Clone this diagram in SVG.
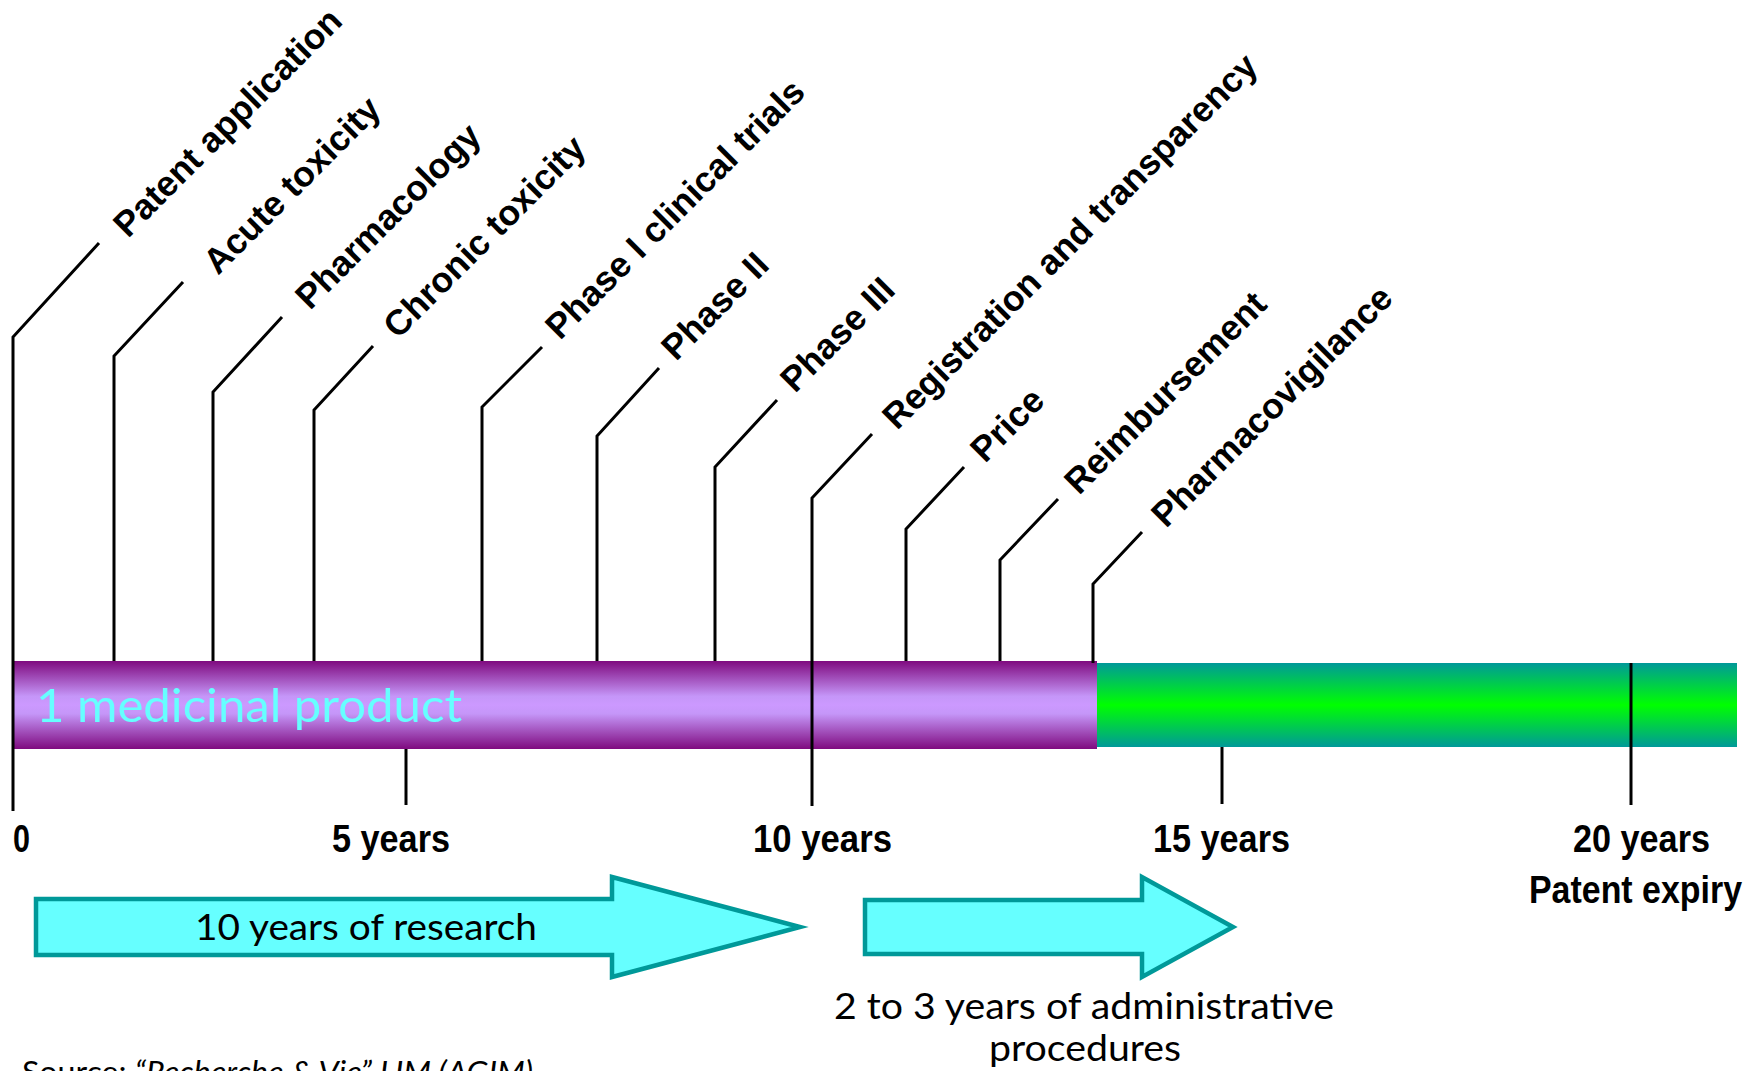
<svg xmlns="http://www.w3.org/2000/svg" width="1755" height="1071" viewBox="0 0 1755 1071">
<defs>
<linearGradient id="gPurple" x1="0" y1="0" x2="0" y2="1">
<stop offset="0" stop-color="#7F0A7F"/>
<stop offset="0.4" stop-color="#C596F8"/>
<stop offset="0.5" stop-color="#CC99FF"/>
<stop offset="0.6" stop-color="#C596F8"/>
<stop offset="1" stop-color="#7F0A7F"/>
</linearGradient>
<linearGradient id="gGreen" x1="0" y1="0" x2="0" y2="1">
<stop offset="0" stop-color="#009999"/>
<stop offset="0.5" stop-color="#00FF00"/>
<stop offset="1" stop-color="#009999"/>
</linearGradient>
<style>
.ln{fill:none;stroke:#000;stroke-width:3;stroke-linejoin:miter}
.lab{font-family:"Liberation Sans",Arial,sans-serif;font-weight:bold;font-size:35.5px;fill:#000}
.yr{font-family:"Liberation Sans",Arial,sans-serif;font-weight:bold;font-size:38px;fill:#000}
.cal{font-family:Lato,"Open Sans",sans-serif;fill:#000}
.arr{fill:#66FFFF;stroke:#009999;stroke-width:4.5}
</style>
</defs>
<rect width="1755" height="1071" fill="#FFFFFF"/>

<g id="bar">
<rect x="13" y="661" width="1084" height="88" fill="url(#gPurple)"/>
<rect x="1097" y="663" width="640" height="84" fill="url(#gGreen)"/>
<text x="36" y="722" class="cal" font-size="47" style="fill:#66FFFF" textLength="426" lengthAdjust="spacingAndGlyphs">1 medicinal product</text>
</g>

<g id="connectors">
<polyline class="ln" points="13,811 13,337 99,243"/>
<polyline class="ln" points="114,661 114,356 183,282"/>
<polyline class="ln" points="213,661 213,392 282,317"/>
<polyline class="ln" points="314,661 314,410 373,346"/>
<polyline class="ln" points="482,661 482,407 542,347"/>
<polyline class="ln" points="597,661 597,436 659,368"/>
<polyline class="ln" points="715,661 715,467 777,400"/>
<polyline class="ln" points="812,806 812,498 872,434"/>
<polyline class="ln" points="906,661 906,529 964,467"/>
<polyline class="ln" points="1000,661 1000,560 1058,499"/>
<polyline class="ln" points="1093,663 1093,584 1142,532"/>
<line class="ln" x1="406" y1="749" x2="406" y2="805"/>
<line class="ln" x1="1222" y1="747" x2="1222" y2="804"/>
<line class="ln" x1="1631" y1="663" x2="1631" y2="805"/>
</g>

<g id="milestones">
<text class="lab" x="128" y="239" transform="rotate(-45 128 239)">Patent application</text>
<text class="lab" x="218" y="276" transform="rotate(-45 218 276)">Acute toxicity</text>
<text class="lab" x="310" y="311" transform="rotate(-45 310 311)">Pharmacology</text>
<text class="lab" x="398" y="340" transform="rotate(-45 398 340)">Chronic toxicity</text>
<text class="lab" x="560" y="341" transform="rotate(-45 560 341)">Phase I clinical trials</text>
<text class="lab" x="676" y="362" transform="rotate(-45 676 362)">Phase II</text>
<text class="lab" x="795" y="394" transform="rotate(-45 795 394)">Phase III</text>
<text class="lab" x="897" y="431" transform="rotate(-45 897 431)">Registration and transparency</text>
<text class="lab" x="985" y="464" transform="rotate(-45 985 464)">Price</text>
<text class="lab" x="1079" y="496" transform="rotate(-45 1079 496)">Reimbursement</text>
<text class="lab" x="1166" y="529" transform="rotate(-45 1166 529)">Pharmacovigilance</text>
</g>

<g id="years">
<text class="yr" x="13" y="852" textLength="17" lengthAdjust="spacingAndGlyphs">0</text>
<text class="yr" x="332" y="852" textLength="118" lengthAdjust="spacingAndGlyphs">5 years</text>
<text class="yr" x="753" y="852" textLength="139" lengthAdjust="spacingAndGlyphs">10 years</text>
<text class="yr" x="1153" y="852" textLength="137" lengthAdjust="spacingAndGlyphs">15 years</text>
<text class="yr" x="1573" y="852" textLength="137" lengthAdjust="spacingAndGlyphs">20 years</text>
<text class="yr" x="1529" y="903" textLength="213" lengthAdjust="spacingAndGlyphs">Patent expiry</text>
</g>

<g id="arrow-research">
<polygon class="arr" points="36,899 612,899 612,877 800,927 612,977 612,955 36,955"/>
<text class="cal" x="195" y="940" font-size="36" textLength="342" lengthAdjust="spacingAndGlyphs">10 years of research</text>
</g>

<g id="arrow-admin">
<polygon class="arr" points="865,900 1142,900 1142,877 1233,927 1142,977 1142,954 865,954"/>
<text class="cal" x="834" y="1019" font-size="36" textLength="500" lengthAdjust="spacingAndGlyphs">2 to 3 years of administrative</text>
<text class="cal" x="989" y="1061" font-size="36" textLength="192" lengthAdjust="spacingAndGlyphs">procedures</text>
</g>

<g id="source">
<text class="cal" x="22" y="1083" font-size="30" textLength="511" lengthAdjust="spacingAndGlyphs">Source:  <tspan font-style="italic">“Recherche &amp; Vie”  LIM (AGIM)</tspan></text>
</g>
</svg>
